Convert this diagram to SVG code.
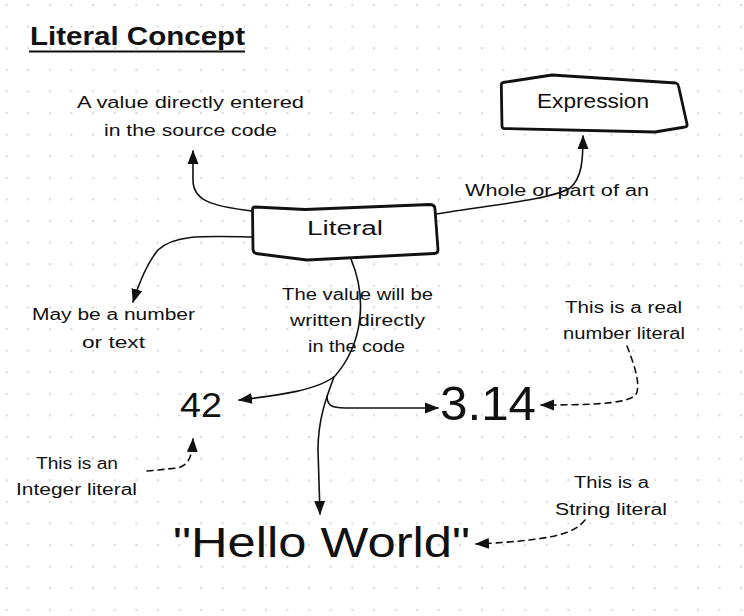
<svg xmlns="http://www.w3.org/2000/svg" width="744" height="616" viewBox="0 0 744 616">
<style>
text{font-family:"Liberation Sans","DejaVu Sans",sans-serif;fill:#111;}
.t{font-size:16px;text-anchor:start;}
.box{fill:#fff;stroke:#111;stroke-width:2.8;stroke-linejoin:round;}
.c{fill:none;stroke:#111;stroke-width:1.6;stroke-linecap:round;}
.d{stroke-dasharray:6 5;}
</style>
<defs>
<pattern id="grid" patternUnits="userSpaceOnUse" x="-4.1" y="-5.8" width="21.6" height="21.6">
<circle cx="10.8" cy="10.8" r="0.9" fill="#c4c4c4"/>
</pattern>
<marker id="ah" markerUnits="userSpaceOnUse" viewBox="0 0 14 12" markerWidth="14" markerHeight="12" refX="13" refY="6" orient="auto">
<path d="M0,0.5 L14,6 L0,11.5 Z" fill="#111"/>
</marker>
</defs>
<rect width="744" height="616" fill="#fff"/>
<rect width="744" height="616" fill="url(#grid)"/>

<g id="title">
<text x="30" y="45" style="font-size:25px;font-weight:bold" textLength="215" lengthAdjust="spacingAndGlyphs">Literal Concept</text>
<path d="M29,51.5 L245,51.5" stroke="#111" stroke-width="2.2" fill="none"/>
</g>

<g id="connectors">
<path class="c" marker-end="url(#ah)" d="M252,211 C210,206 193,200 193,180 L193,151"/>
<path class="c" marker-end="url(#ah)" d="M252,237 C205,236 175,234 158,250 C148,262 140,280 133,302"/>
<path class="c" marker-end="url(#ah)" d="M436,214 C490,205 550,200 570,188 C582,178 583,160 583,136"/>
<path class="c" marker-end="url(#ah)" d="M351,259 C368,300 362,345 335,376 C315,392 270,396 239,400"/>
<path class="c" marker-end="url(#ah)" d="M334,377 C326,398 318,420 318,450 L320,514"/>
<path class="c" marker-end="url(#ah)" d="M327,396 C327,405 331,408 345,408 L438,408"/>
<path class="c d" marker-end="url(#ah)" d="M627,346 C633,362 640,380 637,392 C634,402 610,405 541,405"/>
<path class="c d" marker-end="url(#ah)" d="M147,471 L178,468 C188,465 192,458 193,439"/>
<path class="c d" marker-end="url(#ah)" d="M585,520 C575,532 560,540 476,544"/>
</g>

<g id="node-literal">
<path class="box" d="M255,207 L305,209.5 L430,204.5 Q435,205 435,209 L438,250 Q438,253.5 434,253.5 L307,260 L256,253.5 Q253,252.5 253,249 L252.5,210 Q252.5,207 255,207 Z"/>
<text x="307" y="235" style="font-size:20px" textLength="76" lengthAdjust="spacingAndGlyphs">Literal</text>
</g>

<g id="node-expression">
<path class="box" d="M503,82.5 L552,75 L676,83 Q678,83.5 678.5,86 L687,124 Q687.5,126.5 685,127 L655,132 L504,128.5 Q502,128.3 502,126 L501.3,85 Q501.3,83 503,82.5 Z"/>
<text x="537" y="108" style="font-size:20px" textLength="112" lengthAdjust="spacingAndGlyphs">Expression</text>
</g>

<g id="label-value-entered">
<text class="t" x="77" y="108" textLength="227" lengthAdjust="spacingAndGlyphs">A value directly entered</text>
<text class="t" x="104" y="136" textLength="173" lengthAdjust="spacingAndGlyphs">in the source code</text>
</g>

<g id="label-whole-part">
<text class="t" x="465" y="196" textLength="184" lengthAdjust="spacingAndGlyphs">Whole or part of an</text>
</g>

<g id="label-number-text">
<text class="t" x="32" y="320" textLength="163" lengthAdjust="spacingAndGlyphs">May be a number</text>
<text class="t" x="82" y="348" textLength="63" lengthAdjust="spacingAndGlyphs">or text</text>
</g>

<g id="label-written">
<text class="t" x="282" y="300" textLength="151" lengthAdjust="spacingAndGlyphs">The value will be</text>
<text class="t" x="290" y="326" textLength="135" lengthAdjust="spacingAndGlyphs">written directly</text>
<text class="t" x="308" y="351.5" textLength="97" lengthAdjust="spacingAndGlyphs">in the code</text>
</g>

<g id="label-real">
<text class="t" x="565" y="313" textLength="117" lengthAdjust="spacingAndGlyphs">This is a real</text>
<text class="t" x="563" y="339" textLength="122" lengthAdjust="spacingAndGlyphs">number literal</text>
</g>

<g id="label-integer">
<text class="t" x="36" y="469" textLength="82" lengthAdjust="spacingAndGlyphs">This is an</text>
<text class="t" x="16" y="495" textLength="121" lengthAdjust="spacingAndGlyphs">Integer literal</text>
</g>

<g id="label-string">
<text class="t" x="574" y="488" textLength="75" lengthAdjust="spacingAndGlyphs">This is a</text>
<text class="t" x="555" y="515" textLength="112" lengthAdjust="spacingAndGlyphs">String literal</text>
</g>

<g id="node-42">
<text x="180" y="417" style="font-size:35px" textLength="42" lengthAdjust="spacingAndGlyphs">42</text>
</g>

<g id="node-314">
<text x="440" y="420" style="font-size:48px" textLength="96" lengthAdjust="spacingAndGlyphs">3.14</text>
</g>

<g id="node-hello">
<text x="173" y="557" style="font-size:42px" textLength="297" lengthAdjust="spacingAndGlyphs">"Hello World"</text>
</g>
</svg>
